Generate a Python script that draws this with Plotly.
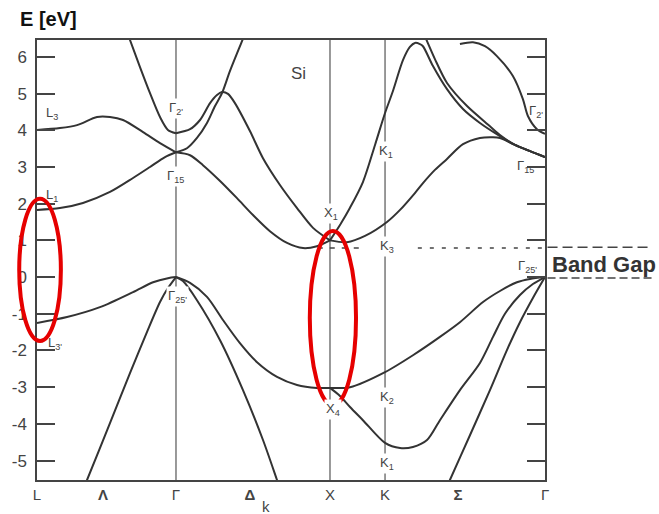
import plotly.graph_objects as go

# ---------------- data (k along path, L-Gamma length = 1; E in eV) ----------------
sym_k = [0.0, 1.0, 2.108, 2.504, 3.655]          # L, Γ, X, K, Γ
xtick_k = [0.0, 0.475, 1.0, 1.532, 2.108, 2.504, 3.029, 3.655]
xtick_text = ["L", "<b>Λ</b>", "Γ", "<b>Δ</b>", "X", "K", "<b>Σ</b>", "Γ"]
ytick_vals = [-5, -4, -3, -2, -1, 0, 1, 2, 3, 4, 5, 6]
ytick_text = ["-5", "-4", "-3", "-2", "-1", "0", "1", "2", "3", "4", "5", "6"]

# L - Gamma
b1_k = [0.309, 0.360, 0.525, 0.669, 0.791, 0.885, 0.942, 1.0]
b1_E = [-6.0, -5.53, -3.98, -2.62, -1.50, -0.68, -0.30, 0.0]
b2_k = [0.0, 0.216, 0.453, 0.691, 0.835, 0.942, 1.0]
b2_E = [-1.25, -1.09, -0.82, -0.41, -0.14, -0.03, 0.0]
b3_k = [0.0, 0.165, 0.331, 0.525, 0.691, 0.813, 0.921, 1.0]
b3_E = [1.83, 1.88, 2.02, 2.32, 2.70, 3.00, 3.27, 3.40]
b4_k = [0.0, 0.165, 0.288, 0.432, 0.525, 0.619, 0.763, 0.885, 1.0]
b4_E = [4.01, 4.06, 4.14, 4.36, 4.36, 4.28, 3.95, 3.65, 3.40]
b5_k = [0.626, 0.669, 0.741, 0.813, 0.885, 0.942, 1.0]
b5_E = [6.9, 6.46, 5.72, 5.01, 4.36, 4.01, 3.92]

# Gamma - X
b6_k = [1.0, 1.101, 1.173, 1.245, 1.295, 1.331, 1.374, 1.424, 1.532, 1.626, 1.748, 1.871, 1.986, 2.108]
b6_E = [3.92, 4.03, 4.28, 4.74, 4.96, 5.04, 4.99, 4.74, 3.98, 3.24, 2.51, 1.88, 1.34, 1.00]
b7_k = [1.0, 1.079, 1.151, 1.223, 1.281, 1.331, 1.388, 1.475, 1.525]
b7_E = [3.40, 3.51, 3.79, 4.20, 4.66, 5.01, 5.61, 6.43, 6.9]
b8_k = [1.0, 1.101, 1.194, 1.317, 1.439, 1.554, 1.676, 1.799, 1.914, 2.014, 2.108]
b8_E = [3.40, 3.32, 3.05, 2.62, 2.15, 1.69, 1.25, 0.93, 0.79, 0.84, 1.00]
b9_k = [1.0, 1.101, 1.223, 1.338, 1.460, 1.583, 1.727, 1.871, 2.014, 2.108]
b9_E = [0.0, -0.16, -0.54, -1.17, -1.80, -2.32, -2.72, -2.94, -3.02, -3.02]
b10_k = [1.0, 1.050, 1.151, 1.317, 1.482, 1.626, 1.727, 1.770]
b10_E = [0.0, -0.11, -0.63, -1.72, -3.08, -4.44, -5.53, -6.0]

# X - K - Gamma
b11_k = [2.108, 2.230, 2.360, 2.518, 2.612, 2.719, 2.777, 2.863, 2.950, 3.065, 3.187, 3.281, 3.331, 3.439, 3.547, 3.655]
b11_E = [1.00, 0.95, 1.12, 1.50, 1.83, 2.29, 2.56, 2.92, 3.22, 3.62, 3.79, 3.81, 3.79, 3.60, 3.43, 3.27]
b12_k = [2.108, 2.180, 2.252, 2.345, 2.432, 2.504, 2.561, 2.633, 2.683, 2.719, 2.755, 2.777,
         2.849, 2.950, 3.065, 3.187, 3.331, 3.439, 3.547, 3.655]
b12_E = [1.00, 1.42, 1.89, 2.59, 3.60, 4.47, 5.07, 5.91, 6.27, 6.38, 6.35, 6.29,
         5.75, 5.12, 4.58, 4.20, 3.84, 3.60, 3.43, 3.27]
b13_k = [2.752, 2.806, 2.863, 2.950, 3.094, 3.259, 3.331, 3.439, 3.547, 3.655]
b13_E = [6.9, 6.43, 5.94, 5.29, 4.66, 4.11, 3.87, 3.60, 3.43, 3.27]
b14_k = [3.043, 3.137, 3.223, 3.309, 3.424, 3.496, 3.532, 3.597, 3.655]
b14_E = [6.35, 6.40, 6.29, 6.02, 5.48, 4.85, 4.39, 4.03, 3.90]
b15_k = [2.108, 2.252, 2.504, 2.705, 2.899, 3.043, 3.209, 3.331, 3.453, 3.547, 3.655]
b15_E = [-3.02, -3.00, -2.59, -2.13, -1.63, -1.23, -0.68, -0.38, -0.14, -0.05, 0.0]
b16_k = [2.108, 2.180, 2.252, 2.345, 2.504, 2.612, 2.705, 2.806, 2.899, 3.043, 3.187, 3.281, 3.367, 3.475, 3.568, 3.655]
b16_E = [-3.02, -3.24, -3.54, -3.90, -4.52, -4.66, -4.63, -4.44, -3.90, -3.08, -2.34, -1.63, -1.00, -0.49, -0.19, 0.0]
b17_k = [2.917, 2.971, 3.115, 3.259, 3.381, 3.475, 3.568, 3.655]
b17_E = [-6.0, -5.53, -4.31, -3.08, -1.99, -1.23, -0.57, 0.0]

bands = [(b1_k, b1_E), (b2_k, b2_E), (b3_k, b3_E), (b4_k, b4_E), (b5_k, b5_E),
         (b6_k, b6_E), (b7_k, b7_E), (b8_k, b8_E), (b9_k, b9_E), (b10_k, b10_E),
         (b11_k, b11_E), (b12_k, b12_E), (b13_k, b13_E), (b14_k, b14_E),
         (b15_k, b15_E), (b16_k, b16_E), (b17_k, b17_E)]

# point labels: (k, E, text, mask vertical line)
point_labels = [
    (0.108, 4.47, "L<sub>3</sub>", False),
    (0.108, 2.23, "L<sub>1</sub>", False),
    (0.129, -1.80, "L<sub>3'</sub>", False),
    (1.0, 4.60, "Γ<sub>2'</sub>", True),
    (1.0, 2.75, "Γ<sub>15</sub>", True),
    (1.014, -0.54, "Γ<sub>25'</sub>", True),
    (2.115, 1.74, "X<sub>1</sub>", True),
    (2.13, -3.62, "X<sub>4</sub>", True),
    (2.511, 3.41, "K<sub>1</sub>", True),
    (2.518, 0.82, "K<sub>3</sub>", True),
    (2.518, -3.27, "K<sub>2</sub>", True),
    (2.518, -5.07, "K<sub>1</sub>", True),
    (3.59, 4.52, "Γ<sub>2'</sub>", False),
    (3.518, 3.00, "Γ<sub>15</sub>", False),
    (3.532, 0.30, "Γ<sub>25'</sub>", False),
]

cbm_E = 0.79       # conduction band minimum (dashed line)
vbm_E = 0.0        # valence band maximum

x_range = [0.0, 3.655]
y_range = [-5.53, 6.46]

# ---------------- figure ----------------
line_col = "#333333"
fig = go.Figure()
for bk, bE in bands:
    fig.add_trace(go.Scatter(x=bk, y=bE, mode="lines", line_shape="spline",
                             line=dict(color=line_col, width=2, smoothing=0.8),
                             hoverinfo="skip", showlegend=False))

shapes = []
for k in sym_k[1:4]:
    shapes.append(dict(type="line", xref="x", yref="paper", x0=k, x1=k, y0=0, y1=1,
                       line=dict(color="#555555", width=1.2), layer="below"))


def ypaper(E):
    return (E - y_range[0]) / (y_range[1] - y_range[0])


# dashed band-gap lines inside the plot
shapes.append(dict(type="line", xref="x", yref="y", x0=2.02, x1=2.35, y0=cbm_E, y1=cbm_E,
                   line=dict(color="#444", width=1.5, dash="5px,7px")))
shapes.append(dict(type="line", xref="x", yref="y", x0=2.74, x1=3.655, y0=cbm_E, y1=cbm_E,
                   line=dict(color="#444", width=1.5, dash="4px,8px")))
# dashed lines outside the plot
shapes.append(dict(type="line", xref="paper", yref="paper", x0=1.005, x1=1.21,
                   y0=ypaper(cbm_E) + 0.002, y1=ypaper(cbm_E) + 0.002,
                   line=dict(color="#444", width=1.5, dash="10px,5px")))
shapes.append(dict(type="line", xref="paper", yref="paper", x0=1.005, x1=1.21,
                   y0=ypaper(vbm_E) - 0.002, y1=ypaper(vbm_E) - 0.002,
                   line=dict(color="#444", width=1.5, dash="8px,4px")))
# red ellipses
shapes.append(dict(type="circle", xref="paper", yref="paper", x0=-0.035, x1=0.047, y0=0.316, y1=0.639,
                   line=dict(color="#e60000", width=4)))
shapes.append(dict(type="circle", xref="paper", yref="paper", x0=0.537, x1=0.628, y0=0.170, y1=0.566,
                   line=dict(color="#e60000", width=4)))

annotations = []
for k, E, t, bg in point_labels:
    annotations.append(dict(x=k, y=E, xref="x", yref="y", text=t, showarrow=False,
                            xanchor="center", yanchor="middle",
                            font=dict(family="Liberation Sans, Arial", size=13, color="#444"),
                            bgcolor="white" if bg else None, borderpad=1))
annotations.append(dict(x=1.878, y=5.56, xref="x", yref="y", text="Si", showarrow=False,
                        xanchor="center", yanchor="middle",
                        font=dict(family="Liberation Sans, Arial", size=17, color="#444")))
annotations.append(dict(x=1.116, y=0.33, xref="paper", yref="y", text="<b>Band Gap</b>", showarrow=False,
                        xanchor="center", yanchor="middle",
                        font=dict(family="Liberation Sans, Arial", size=22, color="#333")))
annotations.append(dict(x=0.022, y=1.048, xref="paper", yref="paper", text="<b>E [eV]</b>", showarrow=False,
                        xanchor="center", yanchor="middle",
                        font=dict(family="Liberation Sans, Arial", size=20, color="#111")))
annotations.append(dict(x=0.451, y=-0.061, xref="paper", yref="paper", text="k", showarrow=False,
                        xanchor="center", yanchor="middle",
                        font=dict(family="Liberation Sans, Arial", size=15, color="#444")))

fig.update_layout(
    width=659, height=514,
    margin=dict(l=37, r=114, t=40, b=34),
    paper_bgcolor="white", plot_bgcolor="white",
    shapes=shapes, annotations=annotations,
    xaxis=dict(range=x_range, tickvals=xtick_k, ticktext=xtick_text, ticks="",
               showgrid=False, zeroline=False, showline=True, mirror=True,
               linecolor="#444", linewidth=1.5, automargin=False,
               tickfont=dict(family="Liberation Sans, Arial", size=15, color="#444")),
    yaxis=dict(range=y_range, tickvals=ytick_vals, ticktext=ytick_text, ticks="inside",
               ticklen=18, tickwidth=1.5, tickcolor="#444",
               showgrid=False, zeroline=False, showline=True, mirror="allticks",
               linecolor="#444", linewidth=1.5, ticklabelstandoff=5, automargin=False,
               tickfont=dict(family="Liberation Sans, Arial", size=17, color="#444")),
)

# remove the default page margin so the figure sits at the window's top-left corner
fig.write_html("out.html",
               config={"displayModeBar": False},
               post_script="document.body.style.margin='0px';"
                           "document.documentElement.style.overflow='hidden';")
